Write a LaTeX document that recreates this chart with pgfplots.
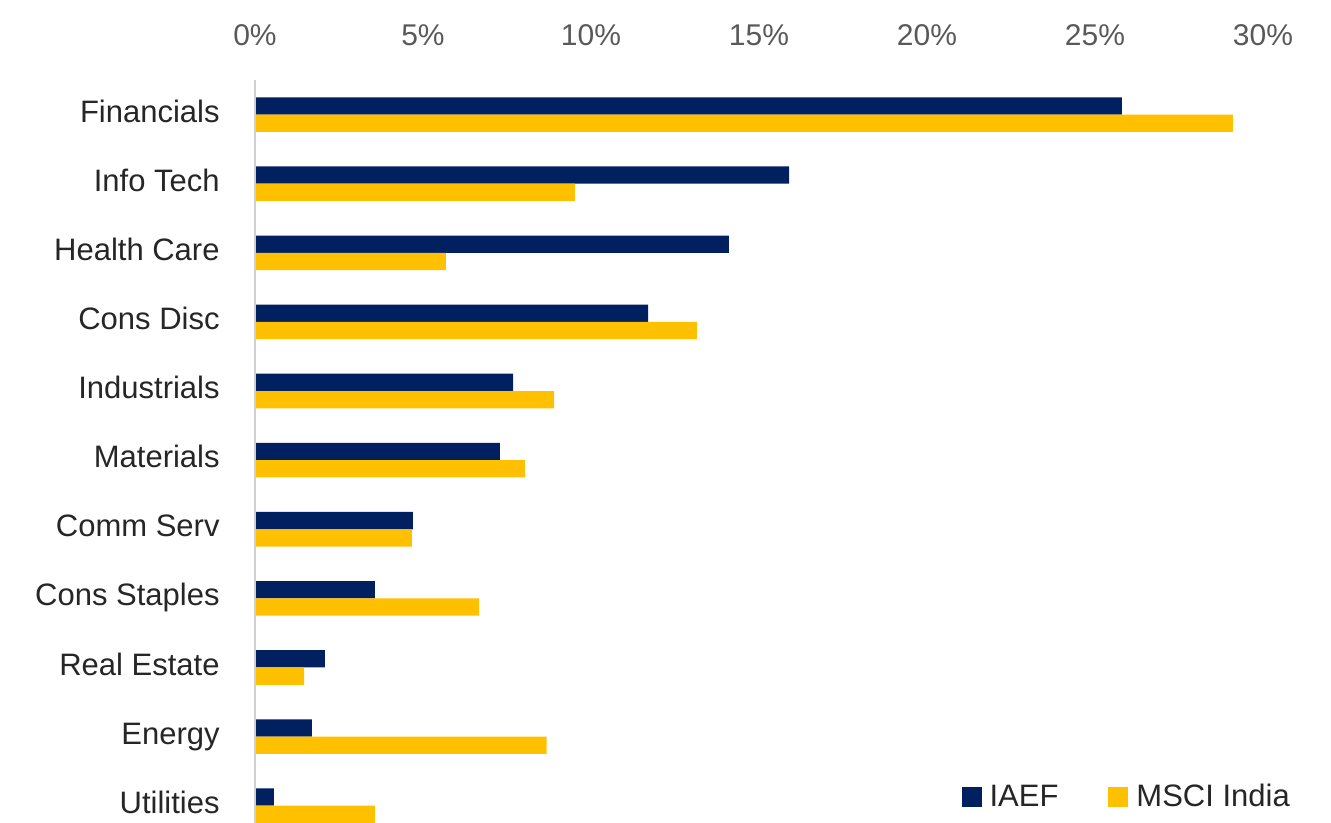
\documentclass[border=0pt]{standalone}
\usepackage{pgfplots}
\pgfplotsset{compat=1.18}
\usepackage{pgfplotstable}
\usepackage{fontspec}
\setmainfont{Liberation Sans}
\definecolor{navy}{HTML}{002060}
\definecolor{gold}{HTML}{FFC000}
\definecolor{ticktxt}{HTML}{595959}
\definecolor{cattxt}{HTML}{262626}
\definecolor{axgray}{HTML}{D0D0D0}

\pgfplotstableread{
y iaef msci
10 25.8 29.1
9 15.9 9.52
8 14.1 5.68
7 11.7 13.15
6 7.68 8.9
5 7.29 8.04
4 4.70 4.67
3 3.57 6.67
2 2.08 1.46
1 1.69 8.68
0 0.56 3.57
}\datatable

\begin{document}
\begin{tikzpicture}
\path[use as bounding box] (-127.5pt,0pt) rectangle (538pt,411.5pt);
\begin{axis}[
  at={(0pt,0pt)}, anchor=south west,
  scale only axis, width=504pt, height=371.5pt,
  xbar, bar width=0.25,
  xmin=0, xmax=30, ymin=-0.25, ymax=10.5,
  clip=false,
  axis line style={draw=none},
  major tick length=0pt,
  xtick={0,5,10,15,20,25,30},
  xticklabels={0\%,5\%,10\%,15\%,20\%,25\%,30\%},
  xticklabel pos=upper,
  xticklabel style={font=\fontsize{15}{18}\selectfont, text=ticktxt, anchor=center, inner sep=0pt, yshift=22.5pt},
  ytick={0,1,2,3,4,5,6,7,8,9,10},
  yticklabels={Utilities,Energy,Real Estate,Cons Staples,Comm Serv,Materials,Industrials,Cons Disc,Health Care,Info Tech,Financials},
  yticklabel style={font=\fontsize{15.5}{18}\selectfont, text=cattxt, anchor=base east, inner sep=0pt, xshift=-17.5pt, yshift=-3.8pt},
  legend columns=2,
  legend style={draw=none, fill=none, inner sep=0pt,
    at={(axis description cs:1.027,0.035)}, anchor=east,
    font=\fontsize{15.5}{18}\selectfont, text=cattxt,
    nodes={inner sep=0pt},
    /tikz/every odd column/.style={column sep=4pt},
    /tikz/every even column/.style={column sep=25pt}},
  legend image code/.code={\fill[#1] (0pt,-5pt) rectangle (10pt,5pt);},
]
\addplot[xbar, fill=navy, draw=none, bar shift=0.125] table[x=iaef, y=y] {\datatable};
\addplot[xbar, fill=gold, draw=none, bar shift=-0.125] table[x=msci, y=y] {\datatable};
\legend{IAEF, MSCI India}
\draw[axgray, line width=1.2pt] (axis cs:0,-0.25) -- (axis cs:0,10.5);
\end{axis}
\end{tikzpicture}
\end{document}
